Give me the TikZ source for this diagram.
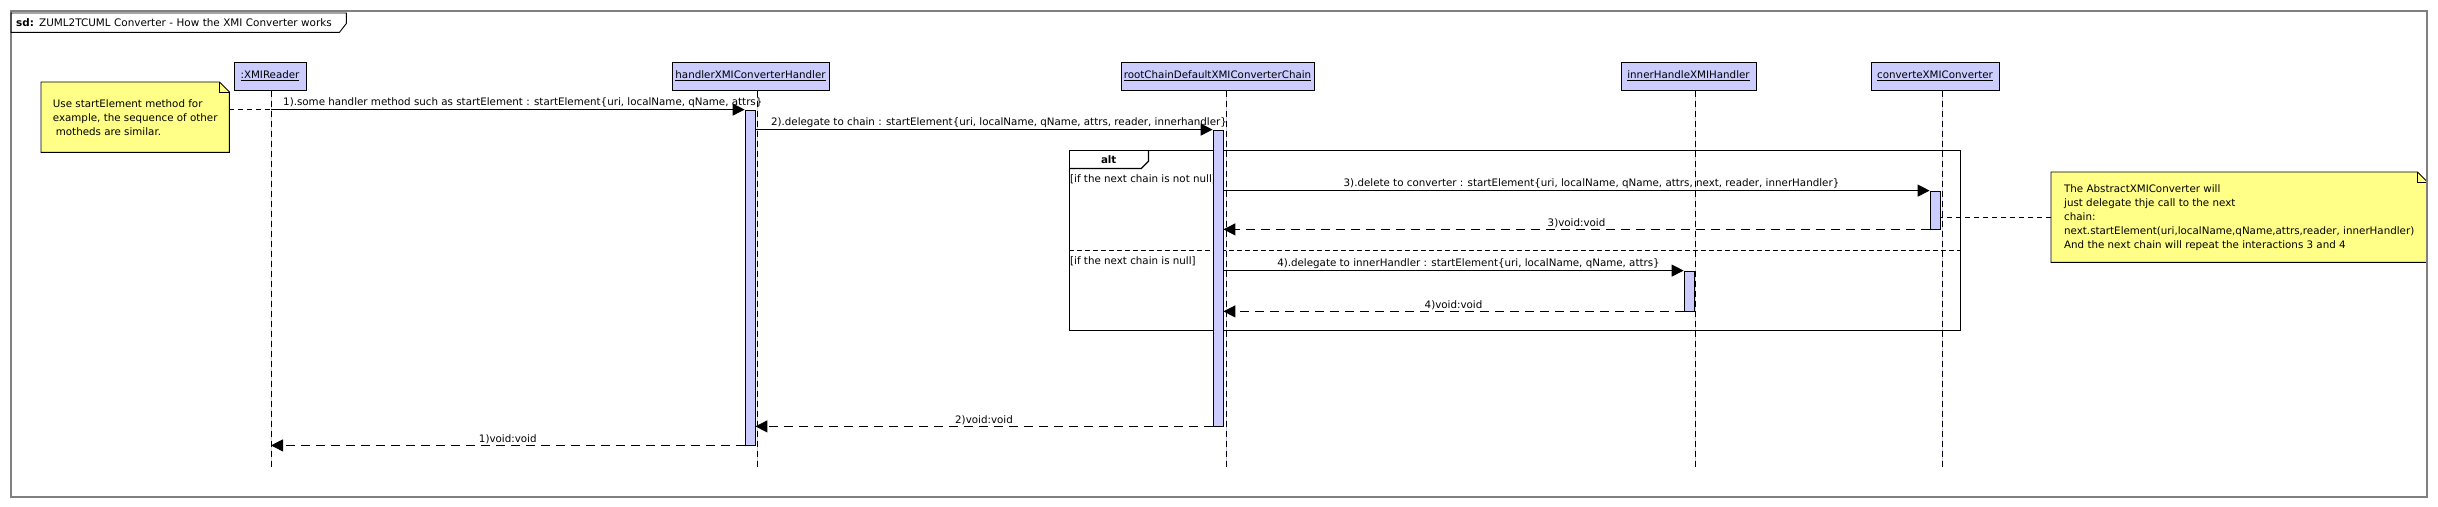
\documentclass[tikz,border=0pt]{standalone}
\usepackage{fontspec}
\setmainfont{DejaVu Sans}
\usetikzlibrary{positioning, arrows.meta, backgrounds, calc}

\definecolor{headblue}{RGB}{204,204,255}
\definecolor{noteyellow}{RGB}{255,255,136}
\definecolor{framegray}{RGB}{128,128,128}

\begin{document}
\begin{tikzpicture}[
    x=1pt, y=-1pt,
    every node/.style={font=\fontsize{10.3}{14}\selectfont},
    head/.style={draw, fill=headblue, line width=1pt, minimum height=28, inner sep=2pt},
    bar/.style={draw, fill=headblue, line width=0.8pt, minimum width=10, inner sep=0pt},
    lifeline/.style={line width=0.9pt, dash pattern=on 6pt off 4pt, preaction={draw=blue!18, solid, line width=0.4pt}},
    call/.style={-{Triangle[length=12pt, width=12pt]}, line width=1.1pt},
    reply/.style={call, dash pattern=on 9pt off 6pt},
    msg/.style={midway, above, inner sep=1pt, xshift=15pt},
    ret/.style={midway, above, inner sep=1pt},
    note/.style={align=left, inner xsep=9pt, inner ysep=0pt, anchor=north west},
    notelink/.style={line width=0.9pt, dash pattern=on 5pt off 4pt},
    guard/.style={anchor=west, inner sep=1pt},
  ]
  \useasboundingbox (0,0) rectangle (2438,506);

  % ---- outer frame and title ----
  \node[draw=framegray, line width=1.5pt, minimum width=2416, minimum height=486, anchor=north west, inner sep=0pt] (frame) at (10,10) {};
  \node[anchor=north west, text width=325, align=left, minimum height=19, inner xsep=5pt, inner ysep=0pt, font=\fontsize{10.4}{12}\selectfont] (title) at (11,13) {\textbf{sd:} ZUML2TCUML Converter - How the XMI Converter works};
  \draw[line width=0.9pt] (title.north west) -- (title.north east) -- ([yshift=9pt]title.south east)
    -- ([xshift=-7pt]title.south east) -- (title.south west) -- cycle;

  % ---- lifeline heads ----
  \node[head, minimum width=72] (reader) at (270,76) {\underline{:XMIReader}};
  \node[head, minimum width=157] (handler) at (750.5,76) {\underline{handlerXMIConverterHandler}};
  \node[head, minimum width=193] (rootChain) at (1217.5,76) {\underline{rootChainDefaultXMIConverterChain}};
  \node[head, minimum width=135] (innerHandler) at (1688.5,76) {\underline{innerHandleXMIHandler}};
  \node[head, minimum width=128] (converter) at (1935,76) {\underline{converteXMIConverter}};

  \coordinate (lifeEnd) at (0,467);
  \draw[lifeline] ([xshift=1pt]reader.south) -- ([xshift=1pt]reader.south |- lifeEnd);
  \draw[lifeline] ([xshift=6.5pt]handler.south) -- ([xshift=6.5pt]handler.south |- lifeEnd);
  \draw[lifeline] ([xshift=8.5pt]rootChain.south) -- ([xshift=8.5pt]rootChain.south |- lifeEnd);
  \draw[lifeline] ([xshift=6.5pt]innerHandler.south) -- ([xshift=6.5pt]innerHandler.south |- lifeEnd);
  \draw[lifeline] ([xshift=7pt]converter.south) -- ([xshift=7pt]converter.south |- lifeEnd);

  % ---- alt fragment ----
  \node[draw, line width=1.2pt, minimum width=891, minimum height=180, anchor=north west, inner sep=0pt] (alt) at (1069,150) {};
  \node[minimum width=79, minimum height=18, anchor=north west, inner sep=0pt] (altTab) at (alt.north west) {\textbf{alt}};
  \draw[line width=1.2pt] (altTab.south west) -- ([xshift=-7pt]altTab.south east) -- ([yshift=7pt]altTab.south east) -- (altTab.north east);
  \coordinate (sep) at (0,250);
  \draw[line width=1pt, dash pattern=on 5pt off 3pt] (alt.west |- sep) -- (alt.east |- sep);
  \node[guard] (guardNotNull) at (1069,179) {[if the next chain is not null]};
  \node[guard] (guardNull) at (1069,261) {[if the next chain is null]};

  % ---- activations ----
  \node[bar, minimum height=335] (actH) at (750,277.5) {};
  \node[bar, minimum height=296] (actR) at (1218,278) {};
  \node[bar, minimum height=38] (actC) at (1935,210) {};
  \node[bar, minimum height=40] (actI) at (1689,291) {};

  % ---- messages ----
  \draw[call] ([xshift=1pt]reader.center |- actH.north) -- (actH.north west)
    node[msg] {1).some handler method such as startElement : startElement\{uri, localName, qName, attrs\}};
  \draw[call] (actH.east |- actR.north) -- (actR.north west)
    node[msg] {2).delegate to chain : startElement\{uri, localName, qName, attrs, reader, innerhandler\}};
  \draw[call] (actR.east |- actC.north) -- (actC.north west)
    node[msg] {3).delete to converter : startElement\{uri, localName, qName, attrs, next, reader, innerHandler\}};
  \draw[reply] (actC.south west) -- (actR.east |- actC.south) node[ret] {3)void:void};
  \draw[call] (actR.east |- actI.north) -- (actI.north west)
    node[msg] {4).delegate to innerHandler : startElement\{uri, localName, qName, attrs\}};
  \draw[reply] (actI.south west) -- (actR.east |- actI.south) node[ret] {4)void:void};
  \draw[reply] (actR.south west) -- (actH.east |- actR.south) node[ret] {2)void:void};
  \draw[reply] (actH.south west) -- ([xshift=1pt]reader.center |- actH.south) node[ret] {1)void:void};

  % ---- notes ----
  \node[note, minimum width=188, minimum height=70] (noteUse) at (41,82) {Use startElement method for\\example, the sequence of other\\\hspace{3pt}motheds are similar.};
  \node[note, minimum width=376, minimum height=90] (noteChain) at (2051,172) {The AbstractXMIConverter will\\just delegate thje call to the next\\chain:\\next.startElement(uri,localName,qName,attrs,reader, innerHandler)\\And the next chain will repeat the interactions 3 and 4};
  \begin{scope}[on background layer]
    \foreach \n in {noteUse, noteChain} {
      \filldraw[fill=noteyellow, line width=0.9pt] (\n.north west) -- ([xshift=-10pt]\n.north east) -- ([yshift=-10pt]\n.north east)
        -- (\n.south east) -- (\n.south west) -- cycle;
      \draw[line width=0.7pt] ([xshift=-10pt]\n.north east) |- ([yshift=-10pt]\n.north east);
    }
  \end{scope}
  \draw[notelink] (noteUse.east |- actH.north) -- ([xshift=1pt]reader.center |- actH.north);
  \draw[notelink] (noteChain.west) -- (actC.east |- noteChain.west);

\end{tikzpicture}
\end{document}
